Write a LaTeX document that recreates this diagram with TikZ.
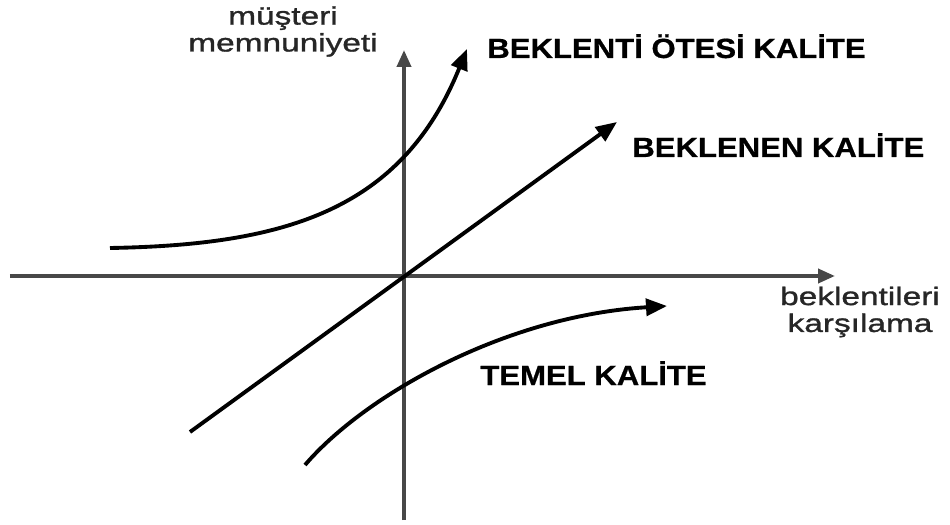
\documentclass[tikz,border=0pt]{standalone}
\usepackage{fontspec}
\setmainfont{Liberation Sans}
\newfontfamily\tagfont[FakeStretch=1.12,FakeBold=0.6]{Liberation Sans}
\newfontfamily\axisfont[FakeStretch=1.32,FakeBold=1.2]{Liberation Sans}
\usetikzlibrary{arrows.meta}
\definecolor{axisgray}{HTML}{484848}

\begin{document}
\begin{tikzpicture}[>={Triangle[length=0.42cm,width=0.34cm]},
  axis/.style={draw=axisgray,line width=2.2pt,-{Triangle[length=0.34cm,width=0.28cm]}},
  curve/.style={line width=2.2pt,->},
  tag/.style={anchor=base west,inner sep=0pt,font=\tagfont\bfseries\fontsize{15.8}{18}\selectfont},
  axislabel/.style={align=center,text=black!85,font=\axisfont\fontsize{14.4}{15.3}\selectfont}]
  \useasboundingbox (-8.08,-4.96) rectangle (10.92,5.52);

  % axes
  \coordinate (ybot) at (0,-4.88);
  \coordinate (ytop) at (0,4.52);
  \coordinate (xleft) at (-7.88,0);
  \coordinate (xright) at (8.62,0);
  \draw[axis] (xleft) -- (xright);
  \draw[axis] (ybot) -- (ytop);

  \node[axislabel] (ylab) at (-2.42,4.89) {müşteri\\memnuniyeti};
  \node[axislabel] (xlab) at (9.12,-0.72) {beklentileri\\karşılama};

  % the three quality curves
  \coordinate (over0) at (-5.88,0.56);
  \coordinate (over1) at (1.26,4.54);
  \coordinate (plain0) at (-4.28,-3.12);
  \coordinate (plain1) at (4.26,3.08);
  \coordinate (base0) at (-1.98,-3.78);
  \coordinate (base1) at (5.26,-0.6);

  \draw[curve] (over0) .. controls (-2.4,0.62) and (-0.05,1.3) .. (over1);
  \draw[curve] (plain0) -- (plain1);
  \draw[curve] (base0) .. controls (-0.8,-2.4) and (2.0,-0.8) .. (base1);

  \node[tag] (over) at (1.66,4.36) {BEKLENTİ ÖTESİ KALİTE};
  \node[tag] (plain) at (4.56,2.38) {BEKLENEN KALİTE};
  \node[tag] (base) at (1.52,-2.18) {TEMEL KALİTE};
\end{tikzpicture}
\end{document}
